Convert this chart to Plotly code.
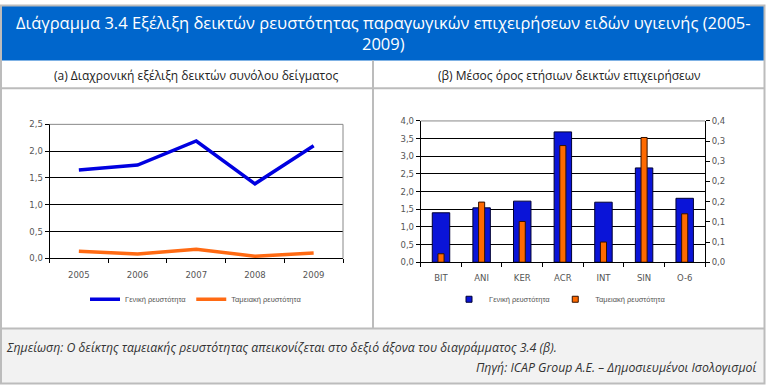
import plotly.graph_objects as go

W, H = 766, 390

# ---- data ----
years = ["2005", "2006", "2007", "2008", "2009"]
general_years = [1.65, 1.74, 2.19, 1.39, 2.10]
cash_years = [0.13, 0.08, 0.17, 0.04, 0.10]

firms = ["BIT", "ANI", "KER", "ACR", "INT", "SIN", "O-6"]
general_firms = [1.40, 1.54, 1.73, 3.69, 1.70, 2.67, 1.81]
cash_firms = [0.021, 0.149, 0.101, 0.289, 0.050, 0.309, 0.120]

left_ticks = [0, 0.5, 1.0, 1.5, 2.0, 2.5]
right_ticks_l = [0, 0.5, 1.0, 1.5, 2.0, 2.5, 3.0, 3.5, 4.0]
right_ticks_r = [0, 0.05, 0.10, 0.15, 0.20, 0.25, 0.30, 0.35]
right_ticktext_r = ["0,0", "0,1", "0,1", "0,2", "0,2", "0,3", "0,3", "0,4"]

name_general = "Γενική ρευστότητα"
name_cash = "Ταμειακή ρευστότητα"

title_text = ("Διάγραμμα 3.4 Εξέλιξη δεικτών ρευστότητας παραγωγικών επιχειρήσεων ειδών υγιεινής (2005-"
              "<br>2009)")
sub_a = "(a) Διαχρονική εξέλιξη δεικτών συνόλου δείγματος"
sub_b = "(β) Μέσος όρος ετήσιων δεικτών επιχειρήσεων"
note_text = "Σημείωση: Ο δείκτης ταμειακής ρευστότητας απεικονίζεται στο δεξιό άξονα του διαγράμματος 3.4 (β)."
source_text = "Πηγή: ICAP Group A.E. – Δημοσιευμένοι Ισολογισμοί"

BLUE = "#0000E0"
ORANGE = "#FF6A13"
BAR_BLUE = "#0A14D8"
BAR_ORANGE = "#FF6A00"
GRAY = "#bcbcbc"
TXT = "#555555"
FONT = "DejaVu Sans"


def px(x):
    return x / W


def py(y):
    return 1 - y / H


fig = go.Figure()

# left line chart
fig.add_trace(go.Scatter(x=years, y=general_years, mode="lines", name=name_general,
                         line=dict(color=BLUE, width=3.5), xaxis="x", yaxis="y", legend="legend"))
fig.add_trace(go.Scatter(x=years, y=cash_years, mode="lines", name=name_cash,
                         line=dict(color=ORANGE, width=3.5), xaxis="x", yaxis="y", legend="legend"))

# right bar chart
fig.add_trace(go.Bar(x=firms, y=general_firms, name=name_general, width=0.43, showlegend=False,
                     marker=dict(color=BAR_BLUE, line=dict(color="#000033", width=1)),
                     xaxis="x2", yaxis="y2"))
fig.add_trace(go.Bar(x=firms, y=cash_firms, name=name_cash, width=0.15, showlegend=False,
                     marker=dict(color=BAR_ORANGE, line=dict(color="#331100", width=1)),
                     xaxis="x2", yaxis="y3"))
# legend entries for the bar chart (small squares)
fig.add_trace(go.Scatter(x=[None], y=[None], mode="markers", name=name_general,
                         marker=dict(symbol="square", size=6, color=BAR_BLUE, line=dict(color="#000033", width=1)),
                         xaxis="x2", yaxis="y2", legend="legend2"))
fig.add_trace(go.Scatter(x=[None], y=[None], mode="markers", name=name_cash,
                         marker=dict(symbol="square", size=6, color=BAR_ORANGE, line=dict(color="#331100", width=1)),
                         xaxis="x2", yaxis="y2", legend="legend2"))

tickfont = dict(family=FONT, size=8.5, color=TXT)
legfont = dict(family="Liberation Sans", size=7.5, color=TXT)

shapes = [
    dict(type="rect", xref="paper", yref="paper", x0=px(1), x1=px(764), y0=py(388), y1=py(332),
         fillcolor="#f2f2f2", line=dict(width=0), layer="below"),
    dict(type="rect", xref="paper", yref="paper", x0=px(1), x1=px(764), y0=py(57), y1=py(1),
         fillcolor="#0066CC", line=dict(width=0), layer="below"),
    dict(type="line", xref="paper", yref="paper", x0=px(1), x1=px(764), y0=py(85.5), y1=py(85.5),
         line=dict(color=GRAY, width=2)),
    dict(type="line", xref="paper", yref="paper", x0=px(373), x1=px(373), y0=py(57), y1=py(332),
         line=dict(color=GRAY, width=2)),
    dict(type="line", xref="paper", yref="paper", x0=px(1), x1=px(764), y0=py(332), y1=py(332),
         line=dict(color=GRAY, width=2)),
    dict(type="rect", xref="paper", yref="paper", x0=px(1), x1=px(764.5), y0=py(388.5), y1=py(0.5),
         line=dict(color=GRAY, width=2)),
    dict(type="line", xref="x domain", yref="y domain", x0=0, x1=1, y0=1, y1=1,
         line=dict(color="#888888", width=1), layer="above"),
    dict(type="line", xref="x domain", yref="y domain", x0=1, x1=1, y0=0, y1=1,
         line=dict(color="#888888", width=1), layer="above"),
    dict(type="line", xref="x2 domain", yref="y2 domain", x0=0, x1=1, y0=1, y1=1,
         line=dict(color="#888888", width=1), layer="above"),
]

annotations = [
    dict(text=title_text, xref="paper", yref="paper", x=px(383), y=py(29), showarrow=False,
         font=dict(family="Open Sans", size=16.5, color="white"), align="center",
         xanchor="center", yanchor="middle"),
    dict(text=sub_a, xref="paper", yref="paper", x=px(196), y=py(72), showarrow=False,
         font=dict(family="Open Sans", size=12, color="#222222"), xanchor="center", yanchor="middle"),
    dict(text=sub_b, xref="paper", yref="paper", x=px(569), y=py(72), showarrow=False,
         font=dict(family="Open Sans", size=12, color="#222222"), xanchor="center", yanchor="middle"),
    dict(text="<i>" + note_text + "</i>", xref="paper", yref="paper", x=px(4), y=py(351), showarrow=False,
         font=dict(family="Open Sans", size=12.3, color="#333333"), xanchor="left", yanchor="middle"),
    dict(text="<i>" + source_text + "</i>", xref="paper", yref="paper", x=px(760), y=py(372), showarrow=False,
         font=dict(family="Open Sans", size=12.3, color="#333333"), xanchor="right", yanchor="middle"),
]

fig.update_layout(
    width=W, height=H,
    margin=dict(l=0, r=0, t=0, b=0),
    paper_bgcolor="white", plot_bgcolor="rgba(0,0,0,0)",
    separators=",.",
    barmode="overlay",
    shapes=shapes,
    annotations=annotations,
    xaxis=dict(domain=[px(49.5), px(343)], type="category", range=[-0.5, 4.5],
               tickson="boundaries", ticks="outside", ticklen=4, tickcolor="black",
               ticklabelstandoff=8,
               showline=True, linecolor="black", linewidth=1, showgrid=False,
               tickfont=tickfont, fixedrange=True),
    yaxis=dict(domain=[py(260), py(122.5)], range=[0, 2.5], tickvals=left_ticks, tickformat=".1f",
               ticks="outside", ticklen=4, tickcolor="black",
               showline=True, linecolor="black", linewidth=1,
               showgrid=True, gridcolor="black", gridwidth=1, zeroline=False,
               tickfont=tickfont, fixedrange=True),
    xaxis2=dict(domain=[px(420.7), px(705)], type="category", range=[-0.5, 6.5],
                tickson="boundaries", ticks="outside", ticklen=4, tickcolor="black",
                ticklabelstandoff=8,
                showline=True, linecolor="black", linewidth=1, showgrid=False,
                tickfont=tickfont, anchor="y2", fixedrange=True),
    yaxis2=dict(domain=[py(264), py(119)], range=[0, 4.0], tickvals=right_ticks_l, tickformat=".1f",
                ticks="outside", ticklen=4, tickcolor="black",
                showline=True, linecolor="black", linewidth=1,
                showgrid=True, gridcolor="black", gridwidth=1, zeroline=False,
                tickfont=tickfont, anchor="x2", fixedrange=True),
    yaxis3=dict(domain=[py(264), py(119)], range=[0, 0.35], tickvals=right_ticks_r, ticktext=right_ticktext_r,
                overlaying="y2", side="right", anchor="x2",
                ticks="outside", ticklen=4, tickcolor="black",
                showline=True, linecolor="black", linewidth=1, showgrid=False, zeroline=False,
                tickfont=tickfont, fixedrange=True),
    legend=dict(orientation="h", x=px(196), y=py(302), xanchor="center", yanchor="middle",
                font=legfont, bgcolor="rgba(0,0,0,0)",
                itemwidth=30, tracegroupgap=0),
    legend2=dict(orientation="h", x=px(560), y=py(302), xanchor="center", yanchor="middle",
                 font=legfont, bgcolor="rgba(0,0,0,0)",
                 itemwidth=30, tracegroupgap=0),
)

fig.write_html("out.html", config={"displayModeBar": False},
               post_script="document.body.style.margin='0px';document.body.style.overflow='hidden';")
